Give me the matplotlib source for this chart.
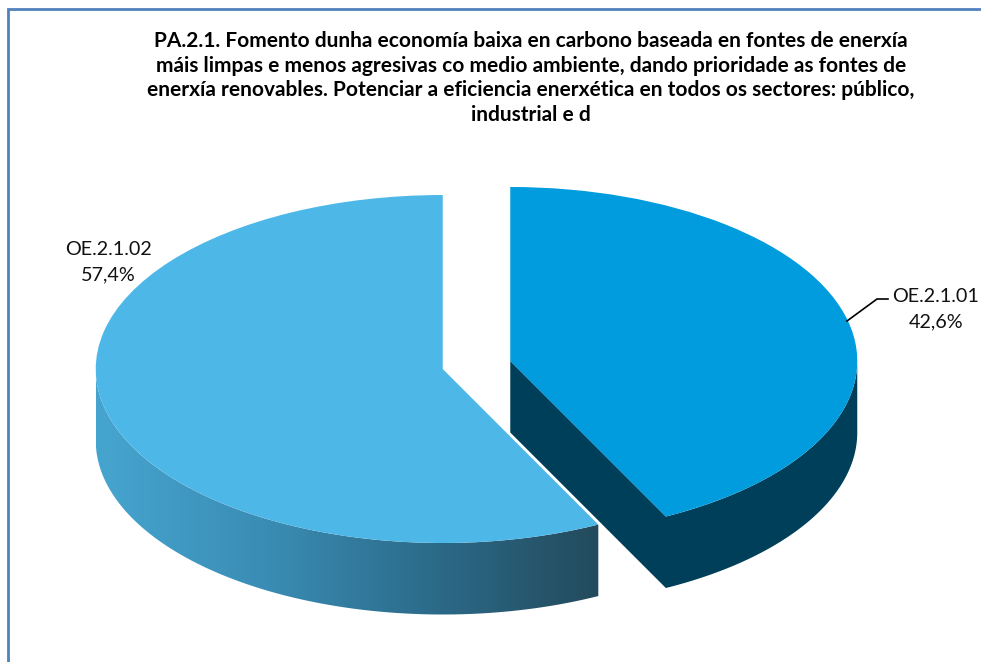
import numpy as np
import matplotlib
matplotlib.use("Agg")
import matplotlib.pyplot as plt
from matplotlib.colors import LinearSegmentedColormap
from matplotlib.patches import Polygon

categories = ["OE.2.1.01", "OE.2.1.02"]
values = [42.6, 57.4]
value_labels = ["42,6%", "57,4%"]
title = ("PA.2.1. Fomento dunha economía baixa en carbono baseada en fontes de enerxía\n"
         "máis limpas e menos agresivas co medio ambiente, dando prioridade as fontes de\n"
         "enerxía renovables. Potenciar a eficiencia enerxética en todos os sectores: público,\n"
         "industrial e d")
top_colors = ["#009CDE", "#4DB7E8"]
wall_right = "#003F5A"
grad_left = ["#46A5CF", "#3A8DB5", "#2C6B8A", "#234A5C"]

W, H = 981, 662
CX, CY, RX, RY, DEPTH = 476.5, 365.0, 347.0, 174.0, 71.5
EXPLODE = 0.1

plt.rcParams["font.family"] = ["Lato", "DejaVu Sans"]
fig = plt.figure(figsize=(W / 100, H / 100), dpi=100, facecolor="white")
ax = fig.add_axes([0, 0, 1, 1])

frac = np.array(values) / sum(values)
edges = np.concatenate([[0], np.cumsum(frac)]) * 2 * np.pi  # clockwise from top
mids = (edges[:-1] + edges[1:]) / 2
ox = EXPLODE * np.sin(mids)
oy = EXPLODE * np.cos(mids)
d = DEPTH / RY
cmap = LinearSegmentedColormap.from_list("wall", grad_left)


def rim(i, t):
    return ox[i] + np.sin(t), oy[i] + np.cos(t)


# Right slice: outer wall and cut face as one shape
t = np.linspace(np.pi / 2, edges[1], 120)
x, y = rim(0, t)
ax.fill(np.r_[x, ox[0], ox[0], x[-1], x[::-1]],
        np.r_[y, oy[0], oy[0] - d, y[-1] - d, y[::-1] - d],
        color=wall_right, lw=0, zorder=1)

# Left slice: outer wall with smooth horizontal gradient clipped to its outline
t = np.linspace(edges[1], 1.5 * np.pi, 260)
x, y = rim(1, t)
wall = Polygon(np.c_[np.r_[x, x[::-1]], np.r_[y, y[::-1] - d]], closed=True,
               facecolor="none", edgecolor="none", zorder=1)
ax.add_patch(wall)
im = ax.imshow(np.linspace(0, 1, 512)[None, :], cmap=cmap, aspect="auto", zorder=1,
               extent=(x.min(), x.max(), (y - d).min(), y.max()), interpolation="bilinear")
im.set_clip_path(wall)

# Top faces
wedges, _ = ax.pie(values, colors=top_colors, explode=[EXPLODE] * 2, startangle=90,
                   counterclock=False, radius=1, wedgeprops={"linewidth": 0})
for w in wedges:
    w.set_zorder(2)
ax.set_aspect("auto")
ax.set_xlim(-CX / RX, (W - CX) / RX)
ax.set_ylim((CY - H) / RY, CY / RY)
ax.axis("off")

# Frame
px = fig.add_axes([0, 0, 1, 1], facecolor="none")
px.set_xlim(0, W)
px.set_ylim(H, 0)
px.axis("off")
px.plot([7.5, 7.5, W], [H, 8.5, 8.5], color="#4F81BD", lw=2.0, solid_joinstyle="miter", clip_on=False)

# Text
TC = "#111111"
px.text(531, 78, title, ha="center", va="center", fontsize=15.0, fontweight="bold",
        color="black", linespacing=1.31)
px.text(936, 309, f"{categories[0]}\n{value_labels[0]}", ha="center", va="center",
        fontsize=14.2, color=TC, linespacing=1.62)
px.text(108, 262, f"{categories[1]}\n{value_labels[1]}", ha="center", va="center",
        fontsize=14.2, color=TC, linespacing=1.62)
px.plot([847, 877, 888], [321, 299, 299], color="black", lw=1.2)

fig.savefig("out.png", dpi=100, facecolor="white")
